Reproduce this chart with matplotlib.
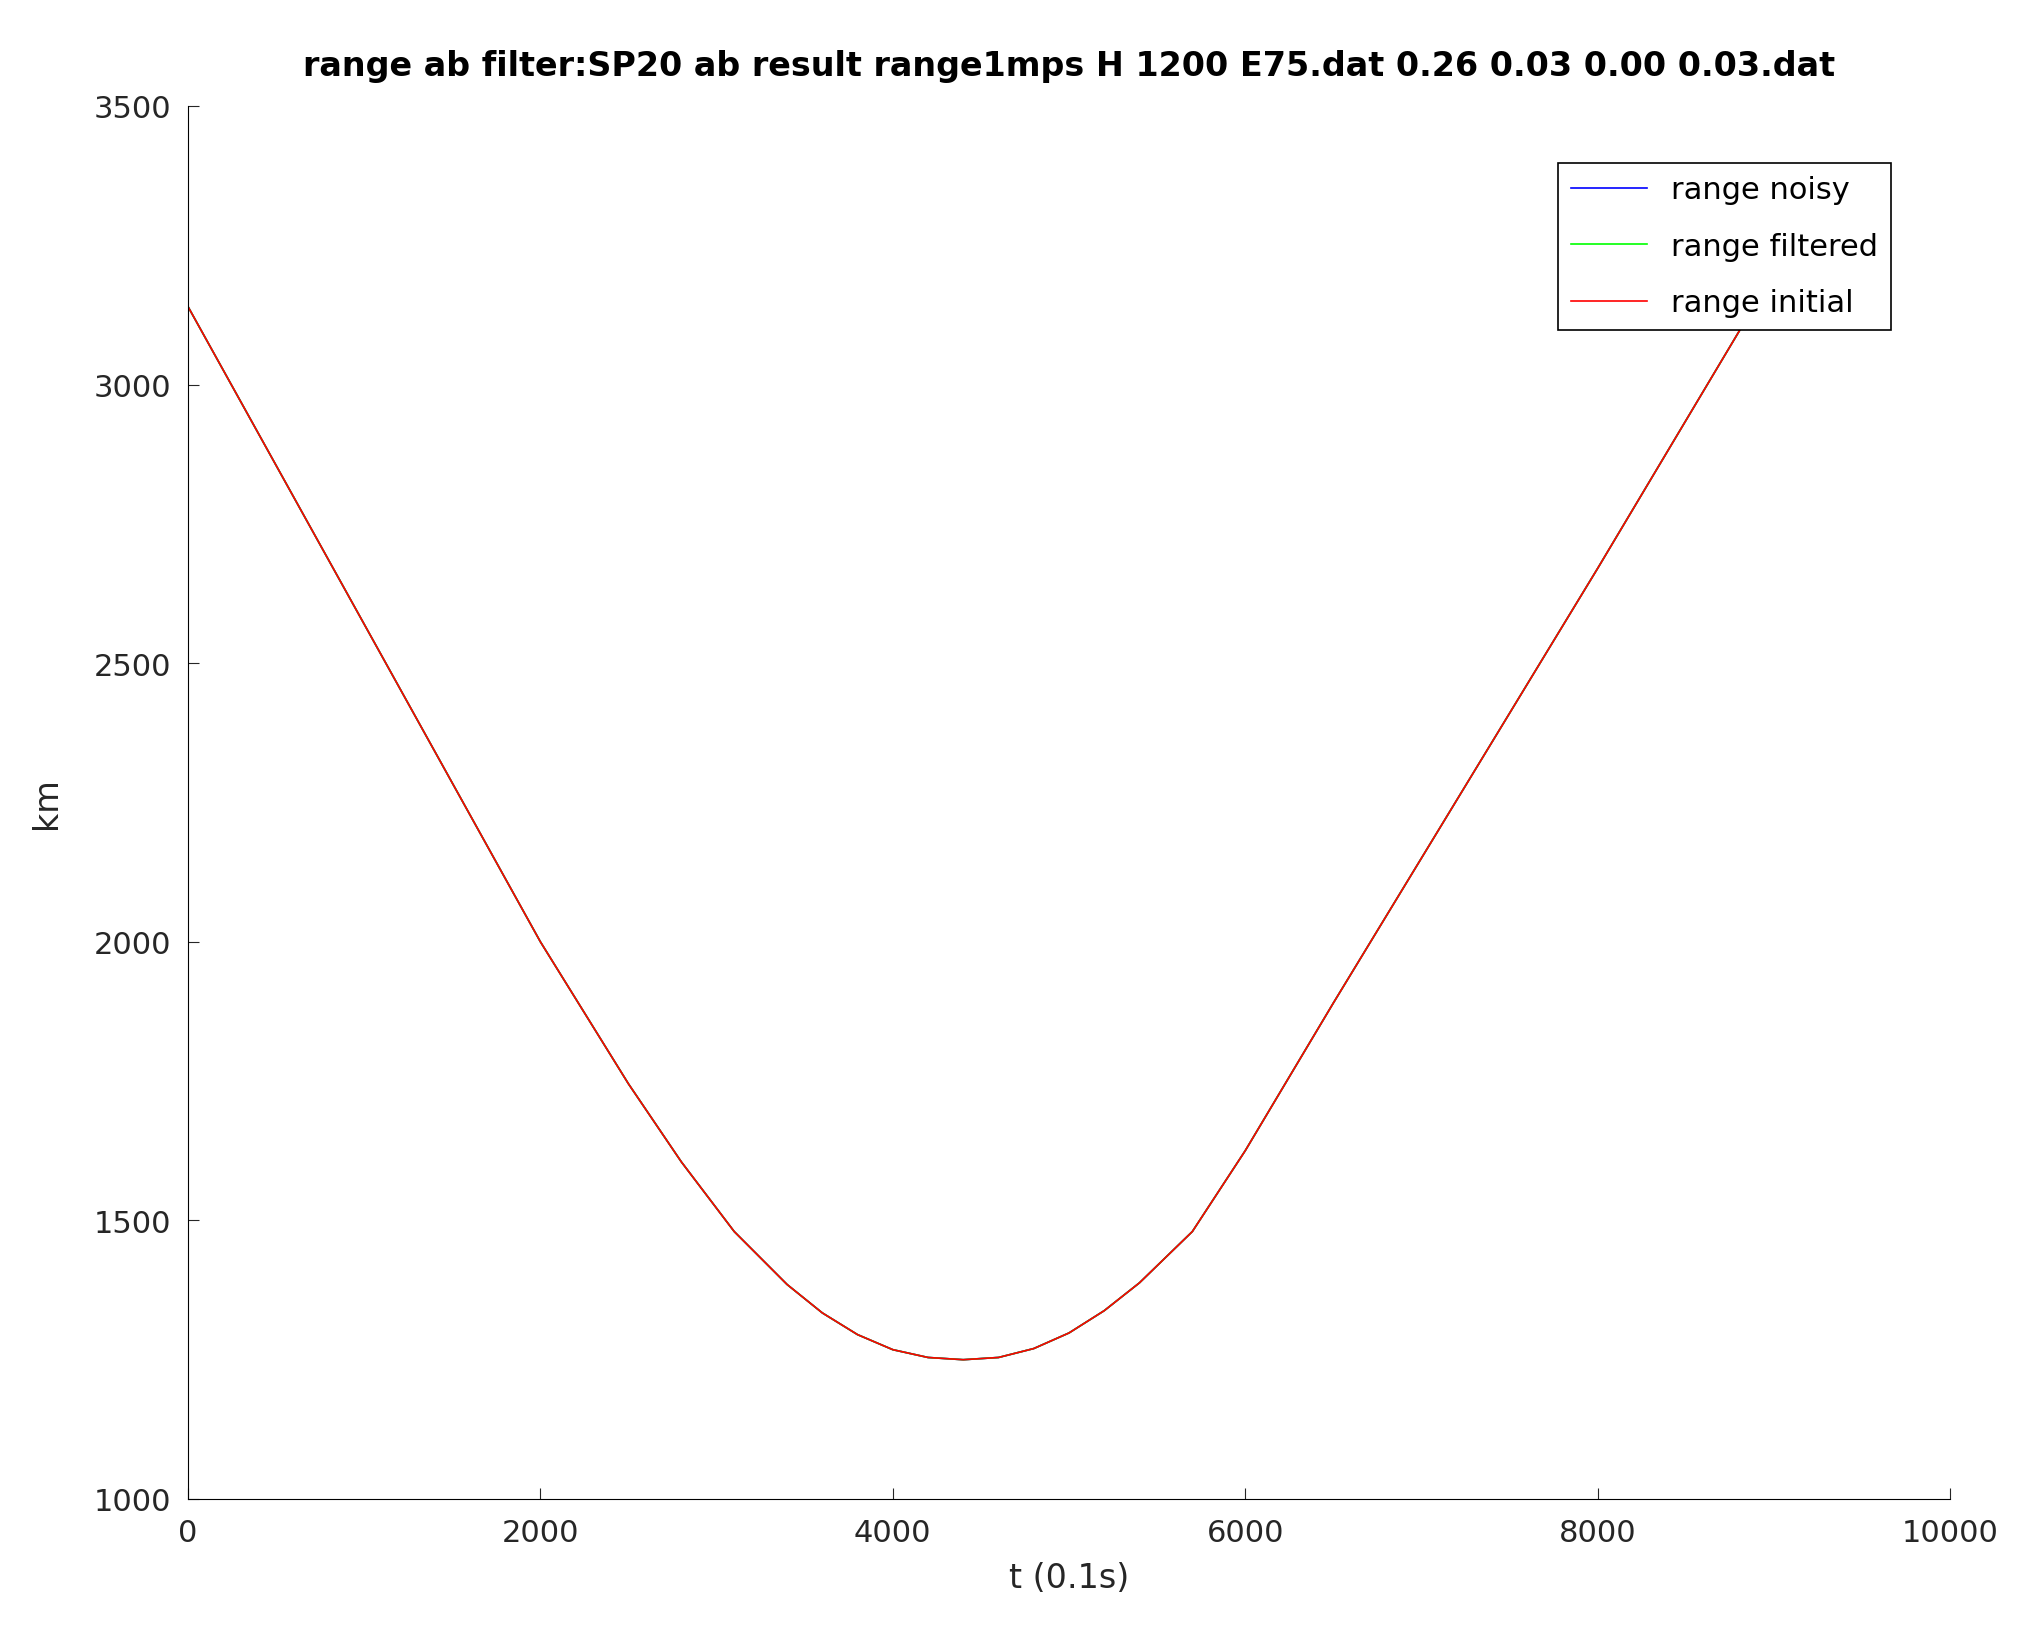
import matplotlib.pyplot as plt

# values
t_vals = [0, 500, 1000, 1500, 2000, 2500, 2800, 3100, 3400, 3600, 3800, 4000, 4200, 4400,
          4600, 4800, 5000, 5200, 5400, 5700, 6000, 6500, 7000, 7500, 8000, 8500, 9000]
range_vals = [3140, 2855, 2570, 2285, 2000, 1745, 1605, 1480, 1385, 1334, 1295, 1268, 1254, 1250,
              1254, 1270, 1298, 1338, 1388, 1480, 1625, 1890, 2150, 2410, 2670, 2935, 3200]

fig = plt.figure(figsize=(20.19, 16.33), dpi=100)
ax = fig.add_axes([188 / 2019, 1 - 1500 / 1633, (1950 - 188) / 2019, (1500 - 107) / 1633])

ax.plot(t_vals, range_vals, color="blue", lw=1.2, label="range noisy")
ax.plot(t_vals, range_vals, color="#00ff00", lw=1.2, label="range filtered")
ax.plot(t_vals, range_vals, color="red", lw=1.2, label="range initial")

ax.set_xlim(0, 10000)
ax.set_ylim(1000, 3500)
ax.set_xticks(range(0, 10001, 2000))
ax.set_yticks(range(1000, 3501, 500))
ax.tick_params(labelsize=22, direction="in", length=8, colors="#262626")
ax.tick_params(axis="x", pad=14)
ax.tick_params(axis="y", pad=12)
for side in ("top", "right"):
    ax.spines[side].set_visible(False)
ax.set_xlabel("t (0.1s)", fontsize=24, color="#262626", labelpad=10)
ax.set_ylabel("km", fontsize=24, color="#262626", labelpad=22)
ax.set_title("range ab filter:SP20 ab result range1mps H 1200 E75.dat 0.26 0.03 0.00 0.03.dat",
             fontsize=24, fontweight="bold", pad=22)
leg = ax.legend(loc="upper right", bbox_to_anchor=(0.975, 0.97), fontsize=22, fancybox=False,
                framealpha=1, edgecolor="black", handlelength=2.5, labelspacing=0.9)
leg.get_frame().set_linewidth(1.2)

fig.savefig("out.png", dpi=100)
